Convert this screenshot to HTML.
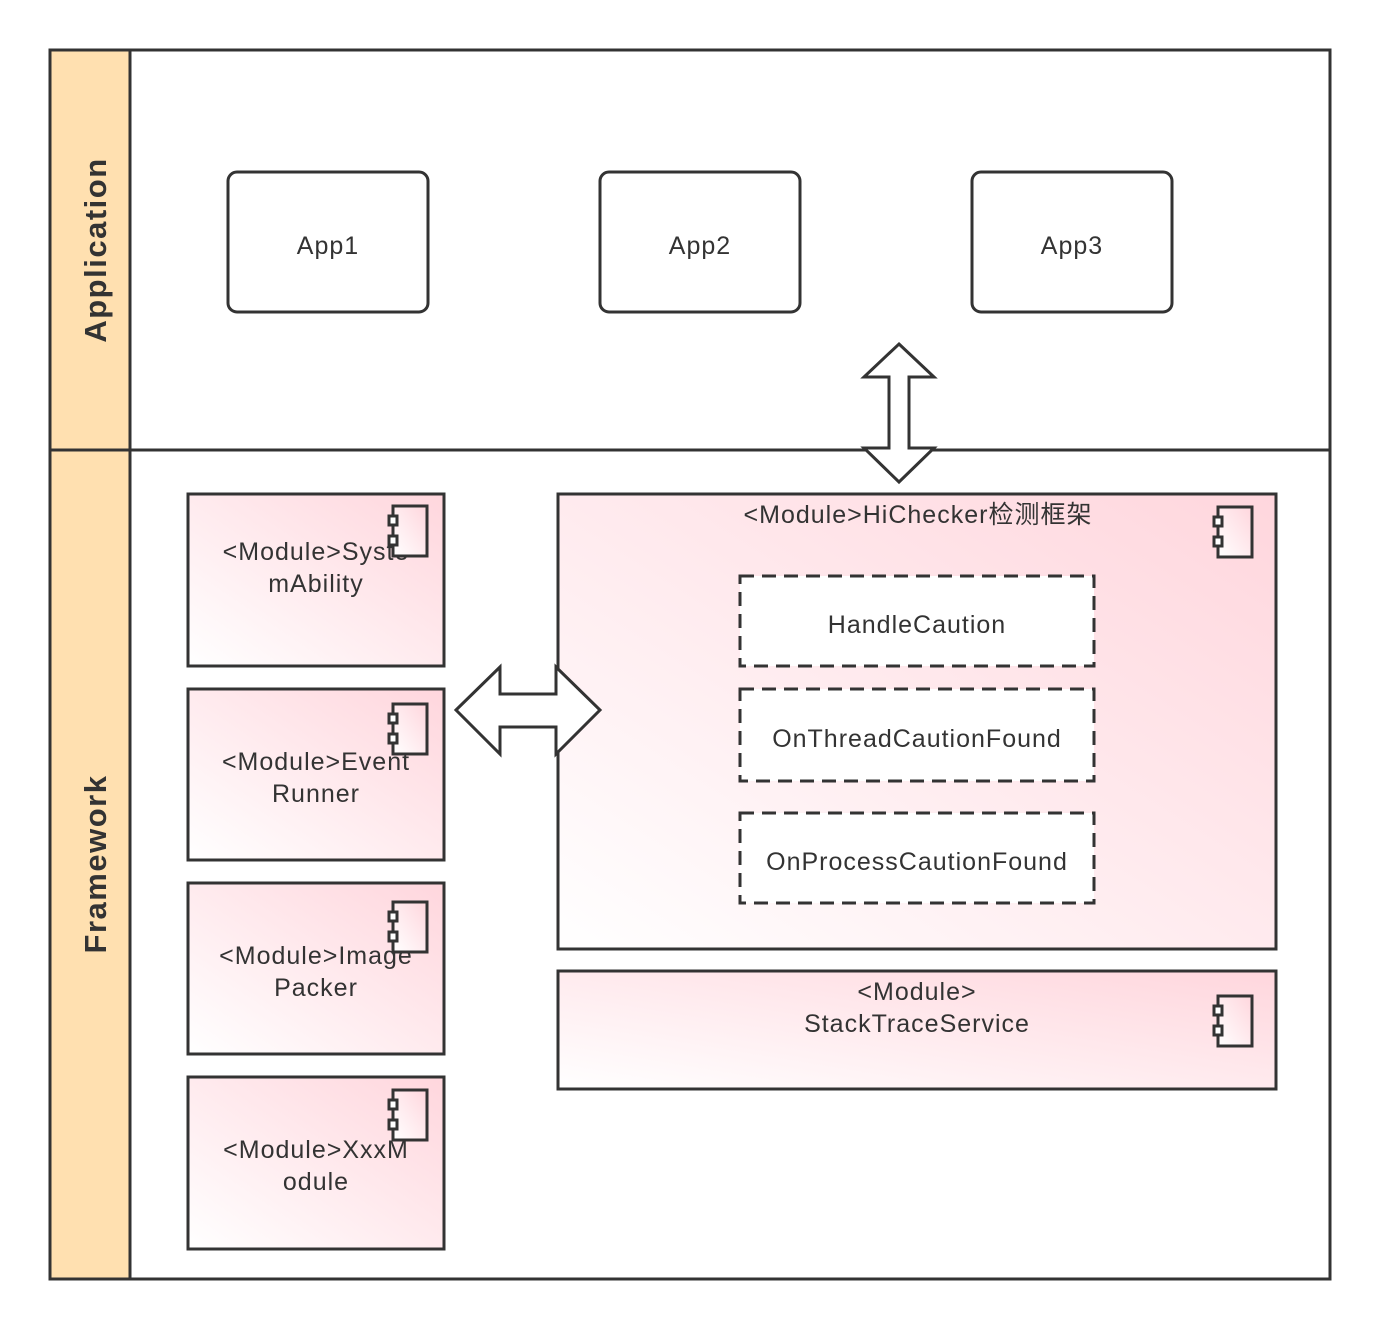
<!DOCTYPE html>
<html><head><meta charset="utf-8"><style>
html,body{margin:0;padding:0;background:#fff;}
svg text{font-family:"Liberation Sans","Noto Sans CJK SC",sans-serif;fill:#333;}
</style></head><body>
<svg width="1380" height="1330" viewBox="0 0 1380 1330" xmlns="http://www.w3.org/2000/svg">
<defs>
<linearGradient id="g" x1="0" y1="1" x2="1" y2="0">
<stop offset="0" stop-color="#ffffff"/><stop offset="1" stop-color="#ffd6dd"/>
</linearGradient>
<g id="ic">
<rect x="0" y="0" width="34" height="50" fill="url(#g)" stroke="#333" stroke-width="3"/>
<rect x="-4" y="10" width="8" height="9" fill="#fff" stroke="#333" stroke-width="3"/>
<rect x="-4" y="30" width="8" height="9" fill="#fff" stroke="#333" stroke-width="3"/>
</g>
</defs>
<rect x="50" y="50" width="1280" height="1229" fill="#fff" stroke="#333" stroke-width="3"/>
<rect x="50" y="50" width="80" height="400" fill="#ffe0b0" stroke="#333" stroke-width="3"/>
<rect x="50" y="450" width="80" height="829" fill="#ffe0b0" stroke="#333" stroke-width="3"/>
<line x1="130" y1="450" x2="1330" y2="450" stroke="#333" stroke-width="3"/>
<text transform="translate(106,250) rotate(-90)" text-anchor="middle" font-size="31" font-weight="bold" letter-spacing="1.5">Application</text>
<text transform="translate(106,864) rotate(-90)" text-anchor="middle" font-size="31" font-weight="bold" letter-spacing="1.5">Framework</text>

<rect x="228" y="172" width="200" height="140" rx="9" fill="#fff" stroke="#333" stroke-width="3"/>
<rect x="600" y="172" width="200" height="140" rx="9" fill="#fff" stroke="#333" stroke-width="3"/>
<rect x="972" y="172" width="200" height="140" rx="9" fill="#fff" stroke="#333" stroke-width="3"/>
<g font-size="25" text-anchor="middle" letter-spacing="1">
<text x="328" y="254">App1</text>
<text x="700" y="254">App2</text>
<text x="1072" y="254">App3</text>
</g>

<rect x="188" y="494" width="256" height="172" fill="url(#g)" stroke="#333" stroke-width="3"/>
<rect x="188" y="689" width="256" height="171" fill="url(#g)" stroke="#333" stroke-width="3"/>
<rect x="188" y="883" width="256" height="171" fill="url(#g)" stroke="#333" stroke-width="3"/>
<rect x="188" y="1077" width="256" height="172" fill="url(#g)" stroke="#333" stroke-width="3"/>
<g font-size="25" text-anchor="middle" letter-spacing="1">
<text x="316" y="560">&lt;Module&gt;Syste</text><text x="316" y="592">mAbility</text>
<text x="316" y="770">&lt;Module&gt;Event</text><text x="316" y="802">Runner</text>
<text x="316" y="964">&lt;Module&gt;Image</text><text x="316" y="996">Packer</text>
<text x="316" y="1158">&lt;Module&gt;XxxM</text><text x="316" y="1190">odule</text>
</g>
<use href="#ic" x="393" y="506"/>
<use href="#ic" x="393" y="704"/>
<use href="#ic" x="393" y="902"/>
<use href="#ic" x="393" y="1090"/>

<rect x="558" y="494" width="718" height="455" fill="url(#g)" stroke="#333" stroke-width="3"/>
<use href="#ic" x="1218" y="507"/>
<text x="918" y="523" text-anchor="middle" font-size="25" letter-spacing="1">&lt;Module&gt;HiChecker检测框架</text>
<g fill="#fff" stroke="#333" stroke-width="3" stroke-dasharray="14,8">
<rect x="740" y="576" width="354" height="90"/>
<rect x="740" y="689" width="354" height="92"/>
<rect x="740" y="813" width="354" height="90"/>
</g>
<g font-size="25" text-anchor="middle" letter-spacing="1">
<text x="917" y="633">HandleCaution</text>
<text x="917" y="747">OnThreadCautionFound</text>
<text x="917" y="870">OnProcessCautionFound</text>
<text x="917" y="1000">&lt;Module&gt;</text>
<text x="917" y="1032">StackTraceService</text>
</g>

<rect x="558" y="971" width="718" height="118" fill="url(#g)" stroke="#333" stroke-width="3" style="fill:url(#g)"/>
<use href="#ic" x="1218" y="996"/>
<g font-size="25" text-anchor="middle" letter-spacing="1">
<text x="917" y="1000">&lt;Module&gt;</text>
<text x="917" y="1032">StackTraceService</text>
</g>

<polygon points="899,344 934,377 909,377 909,448 934,448 899,482 864,448 889,448 889,377 864,377" fill="#fff" stroke="#333" stroke-width="3"/>
<polygon points="456,710 500,667 500,694 556,694 556,667 600,710 556,754 556,727 500,727 500,754" fill="#fff" stroke="#333" stroke-width="3"/>
</svg>
</body></html>
